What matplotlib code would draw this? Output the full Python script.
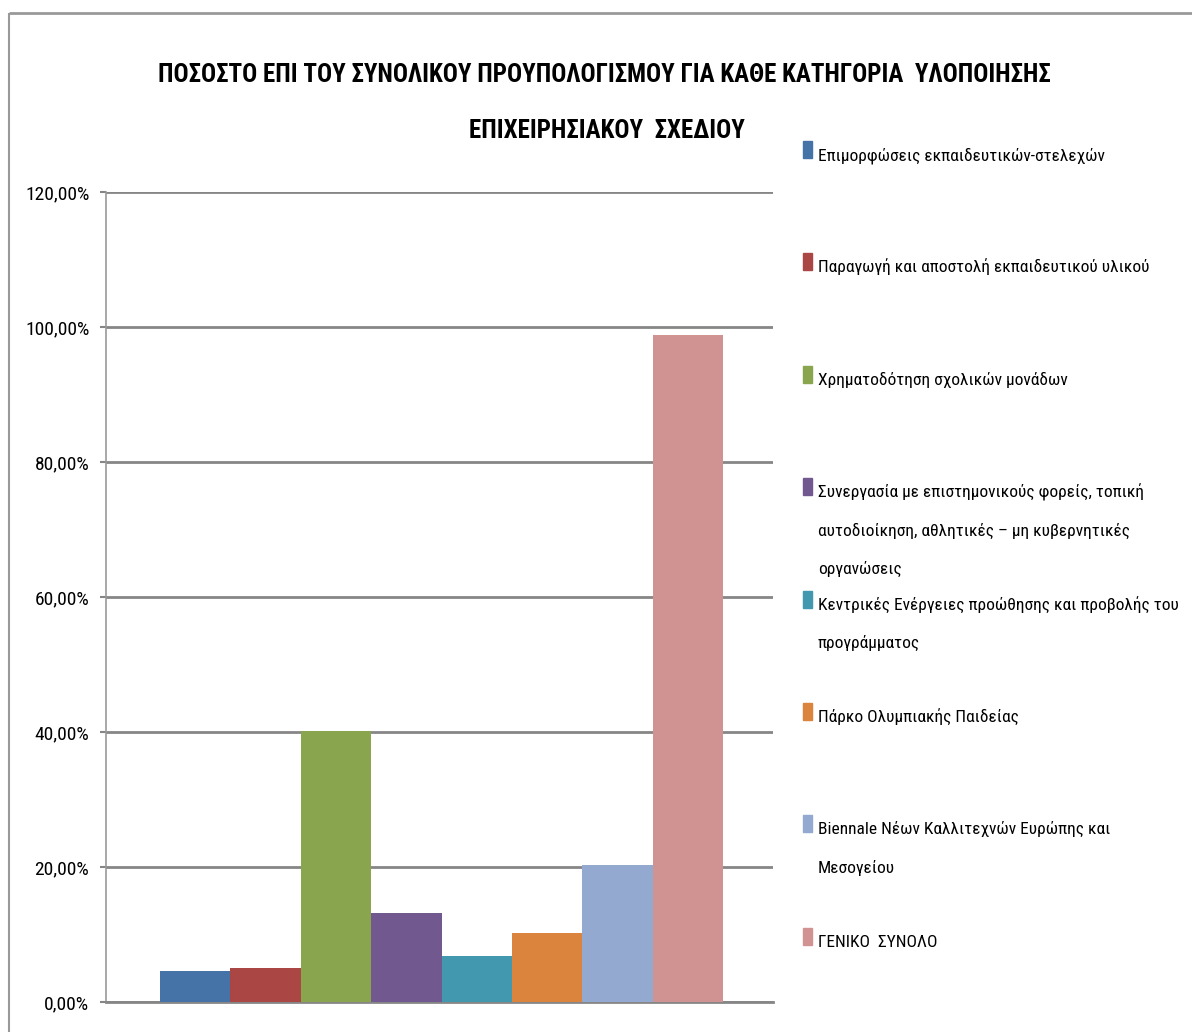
import matplotlib
matplotlib.use("Agg")
import matplotlib.pyplot as plt
from matplotlib import font_manager
from matplotlib.patches import Rectangle
from matplotlib.ticker import FuncFormatter
import numpy as np

# ---------------- data ----------------
title_lines = [
    "ΠΟΣΟΣΤΟ ΕΠΙ ΤΟΥ ΣΥΝΟΛΙΚΟΥ ΠΡΟΥΠΟΛΟΓΙΣΜΟΥ ΓΙΑ ΚΑΘΕ ΚΑΤΗΓΟΡΙΑ  ΥΛΟΠΟΙΗΣΗΣ",
    "ΕΠΙΧΕΙΡΗΣΙΑΚΟΥ  ΣΧΕΔΙΟΥ",
]
categories = [
    "Επιμορφώσεις εκπαιδευτικών-στελεχών",
    "Παραγωγή και αποστολή εκπαιδευτικού υλικού",
    "Χρηματοδότηση σχολικών μονάδων",
    "Συνεργασία με επιστημονικούς φορείς, τοπική\nαυτοδιοίκηση, αθλητικές – μη κυβερνητικές\nοργανώσεις",
    "Κεντρικές Ενέργειες προώθησης και προβολής του\nπρογράμματος",
    "Πάρκο Ολυμπιακής Παιδείας",
    "Biennale Νέων Καλλιτεχνών Ευρώπης και\nΜεσογείου",
    "ΓΕΝΙΚΟ  ΣΥΝΟΛΟ",
]
values = [0.0462, 0.0511, 0.4015, 0.1325, 0.0685, 0.1027, 0.2025, 0.988]
colors = ["#4572A7", "#AA4643", "#89A54E", "#71588F",
          "#4198AF", "#DB843D", "#93A9CF", "#D19392"]
yticks = [0.0, 0.2, 0.4, 0.6, 0.8, 1.0, 1.2]

# ---------------- fonts ----------------
available = {f.name for f in font_manager.fontManager.ttflist}
family = "DejaVu Sans"
for cand in ["Liberation Sans Narrow", "DejaVu Sans Condensed", "Roboto Condensed",
             "Open Sans Condensed", "Liberation Sans"]:
    if cand in available:
        family = cand
        break
plt.rcParams["font.family"] = [family, "DejaVu Sans"]

W, H = 1192, 1032
fig = plt.figure(figsize=(W / 100, H / 100), dpi=100)
fig.patch.set_facecolor("white")

# ---------------- main axes ----------------
L, R, T, B = 106, 773, 192, 1002
ax = fig.add_axes([L / W, 1 - B / H, (R - L) / W, (B - T) / H])
x = np.arange(len(values))
ax.bar(x, values, width=1.0, color=colors, zorder=3)
ax.set_xlim(-1.267, 8.21)
ax.set_ylim(0, 1.2)
ax.set_yticks(yticks)
ax.yaxis.set_major_formatter(FuncFormatter(lambda v, p: f"{v*100:.2f}%".replace(".", ",")))
ax.set_xticks([])
grid_c = "#868686"
ax.grid(axis="y", color=grid_c, linewidth=2.0, zorder=1)
for s in ["top", "right"]:
    ax.spines[s].set_visible(False)
ax.spines["left"].set_color("#999999")
ax.spines["left"].set_linewidth(1.2)
ax.spines["bottom"].set_color(grid_c)
ax.spines["bottom"].set_linewidth(2.0)
ax.tick_params(axis="y", length=4, width=1.5, color=grid_c, pad=8, labelsize=14)

# ---------------- overlay in pixel coordinates ----------------
ov = fig.add_axes([0, 0, 1, 1], zorder=5)
ov.set_xlim(0, W)
ov.set_ylim(H, 0)
ov.axis("off")
ov.patch.set_visible(False)

# outer chart border
ov.plot([9, W + 5], [12.5, 12.5], color="#999999", lw=2.0, solid_capstyle="butt")
ov.plot([9, 9], [12.5, H + 5], color="#999999", lw=1.5, solid_capstyle="butt")

# title
ov.text(604, 82, title_lines[0], ha="center", va="baseline",
        fontsize=18, fontweight="bold", color="black")
ov.text(607, 138, title_lines[1], ha="center", va="baseline",
        fontsize=18, fontweight="bold", color="black")

# legend
base0, step, lstep = 160, 112.4, 38.5
for i, (lab, col) in enumerate(zip(categories, colors)):
    yb = base0 + i * step
    ov.add_patch(Rectangle((803, yb - 19), 9, 17, color=col))
    for j, line in enumerate(lab.split("\n")):
        ov.text(818, yb + j * lstep, line, ha="left", va="baseline",
                fontsize=12.5, color="black")

fig.savefig("out.png", dpi=100)
